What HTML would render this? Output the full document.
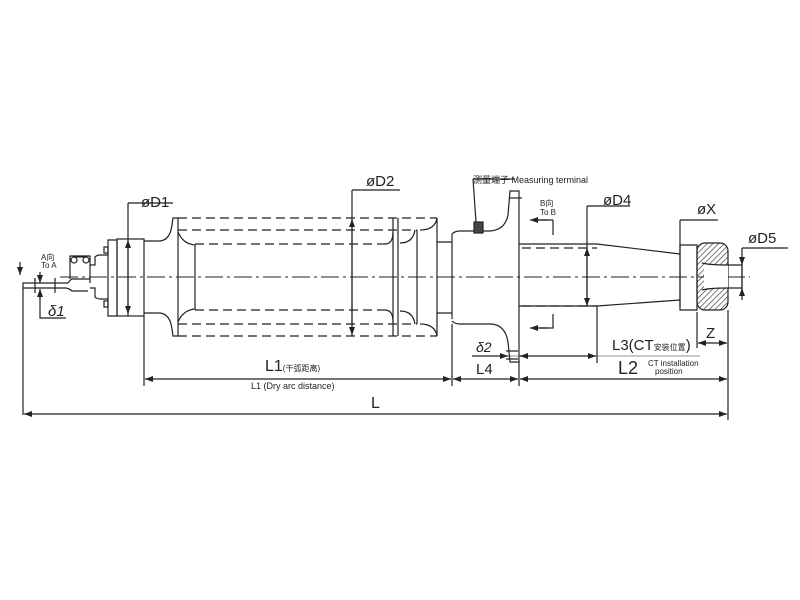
<!DOCTYPE html>
<html><head><meta charset="utf-8"><style>
html,body{margin:0;padding:0;background:#fff;}
svg{display:block;}
text{font-family:"Liberation Sans","Noto Sans CJK SC",sans-serif;fill:#222;}
</style></head><body>
<svg width="800" height="600" viewBox="0 0 800 600" xmlns="http://www.w3.org/2000/svg">
<defs>
<marker id="a" markerWidth="8" markerHeight="6" refX="8" refY="3" orient="auto-start-reverse" markerUnits="userSpaceOnUse"><path d="M0,0 L8,3 L0,6 z" fill="#222"/></marker>
<pattern id="h" width="4" height="4" patternUnits="userSpaceOnUse" patternTransform="rotate(45)"><line x1="0" y1="0" x2="0" y2="4" stroke="#333" stroke-width="1.3"/></pattern>
</defs>
<g fill="none" stroke="#222" stroke-width="1.2">
<line x1="60" y1="277" x2="750" y2="277" stroke-dasharray="18,4,3,4" stroke-width="0.9"/>
<path d="M23,415 V283 H68 Q70,280 72,279 H90"/>
<path d="M23,288 H66 Q70,289 72,291 H88"/>
<line x1="35" y1="278" x2="35" y2="293"/><line x1="55" y1="278" x2="55" y2="293"/>
<path d="M70,279 V256 H90 V283"/>
<circle cx="74" cy="260" r="3"/><circle cx="86" cy="260" r="3"/><line x1="74" y1="257" x2="86" y2="257"/>
<path d="M90,265 H95 V257 Q97,255 100,255 H108 M90,288 H95 V297 Q97,299 100,299 H108"/>
<rect x="104" y="247" width="4" height="6"/><rect x="104" y="301" width="4" height="6"/>
<path d="M108,240 H117 V316 H108 Z"/>
<rect x="117" y="239" width="27" height="77"/>
<path d="M144,241 H160 Q170,240 172,225 L173,218 H178 V336 H173 L172,329 Q170,314 160,313 H144"/>
<path d="M178,232 Q183,244 195,245 V309 Q183,310 178,322"/>
<g stroke-dasharray="9,5">
<line x1="178" y1="218" x2="437" y2="218"/><line x1="178" y1="336" x2="437" y2="336"/>
<line x1="178" y1="230" x2="417" y2="230"/><line x1="178" y1="324" x2="417" y2="324"/>
<line x1="195" y1="244" x2="386" y2="244"/><line x1="195" y1="310" x2="386" y2="310"/>
</g>
<!-- right sheds -->
<path d="M393,218 V336 M398,218 V336 M417,230 V324 M437,218 V336"/>
<path d="M385,244 Q393,244 393,232 M385,310 Q393,310 393,322"/>
<path d="M400,243 Q413,243 415,230 M400,311 Q413,311 415,324"/>
<path d="M420,230 Q435,230 437,218 M420,324 Q435,324 437,336"/>
<path d="M437,242 H452 M437,313 H452"/>
<path d="M452,319 V234 Q455,231 460,231 H490 Q505,230 508,215 L510,191 H519 V362 H510 L508,342 Q505,324 490,324 H460 Q455,324 452,321"/>
<rect x="474" y="222" width="9" height="11" fill="#444"/>
<line x1="509" y1="198" x2="522" y2="198"/>
<path d="M519,244 H597 L680,254 M519,306 H597 L680,300"/>
<g stroke-dasharray="9,5"><line x1="522" y1="248" x2="597" y2="248"/><line x1="522" y1="306" x2="597" y2="306"/></g>
<path d="M680,245 H697 V310 H680 Z"/>
<rect x="697" y="243" width="31" height="67" rx="8" fill="url(#h)"/>
<rect x="704" y="265" width="24" height="23" fill="#fff" stroke="none"/>
<path d="M702,263 Q710,265 728,265 M702,290 Q710,288 728,288"/>
<path d="M728,265 H742 V288 H728"/>
<path d="M20,262 V275" marker-end="url(#a)"/>
<path d="M553,220 V235 M553,220 H532" /><path d="M548,220 H530" marker-end="url(#a)"/>
<path d="M553,314 V328 H532"/><path d="M548,328 H530" marker-end="url(#a)"/>
<path d="M128,203 H173 M128,203 V316"/>
<path d="M128,240 V314" marker-start="url(#a)" marker-end="url(#a)"/>
<path d="M352,190 H400 M352,190 V336"/>
<path d="M352,219 V335" marker-start="url(#a)" marker-end="url(#a)"/>
<path d="M587,206 H630 M587,206 V306"/>
<path d="M587,248 V306" marker-start="url(#a)" marker-end="url(#a)"/>
<path d="M680,220 H718 M680,220 V307"/>
<path d="M742,248 H788 M742,248 V300"/>
<path d="M742,258 V265" marker-end="url(#a)"/><path d="M742,296 V288" marker-end="url(#a)"/>
<path d="M40,291 V318 H66"/>
<path d="M40,272 V283" marker-end="url(#a)"/><path d="M40,300 V289" marker-end="url(#a)"/>
<path d="M144,316 V386 M452,324 V386 M519,362 V386 M728,310 V420 M597,306 V363 M697,312 V348"/>
<path d="M145,379 H451" marker-start="url(#a)" marker-end="url(#a)"/>
<path d="M453,379 H518" marker-start="url(#a)" marker-end="url(#a)"/>
<path d="M520,379 H727" marker-start="url(#a)" marker-end="url(#a)"/>
<path d="M24,414 H727" marker-start="url(#a)" marker-end="url(#a)"/>
<path d="M698,343 H727" marker-start="url(#a)" marker-end="url(#a)"/>
<path d="M520,356 H596" marker-start="url(#a)" marker-end="url(#a)"/>
<path d="M472,356 H508" marker-end="url(#a)"/><path d="M520,356 H528"/>
<path d="M474,356 H700" stroke-width="0.6"/>
<path d="M506,351 H518 M506,359 H518"/>
<path d="M473,179 H515 M473,179 L476,222"/>
</g>
<text x="141" y="207" font-size="15">øD1</text>
<text x="366" y="186" font-size="15">øD2</text>
<text x="603" y="205" font-size="15">øD4</text>
<text x="697" y="214" font-size="15">øX</text>
<text x="748" y="243" font-size="15">øD5</text>
<text x="41" y="260" font-size="8">A向</text>
<text x="41" y="268" font-size="8">To A</text>
<text x="48" y="316" font-size="15" font-style="italic">δ1</text>
<text x="540" y="206" font-size="8">B向</text>
<text x="540" y="215" font-size="8">To B</text>
<text x="473" y="183" font-size="9">测量端子 Measuring terminal</text>
<text x="265" y="371" font-size="16">L1<tspan font-size="8">(干弧距离)</tspan></text>
<text x="251" y="389" font-size="9">L1 (Dry arc distance)</text>
<text x="476" y="352" font-size="14" font-style="italic">δ2</text>
<text x="476" y="374" font-size="15">L4</text>
<text x="612" y="350" font-size="15">L3(CT<tspan font-size="8">安装位置</tspan>)</text>
<text x="618" y="374" font-size="18">L2</text>
<text x="648" y="366" font-size="8">CT installation</text>
<text x="655" y="374" font-size="8">position</text>
<text x="706" y="338" font-size="15">Z</text>
<text x="371" y="408" font-size="16">L</text>
</svg>
</body></html>
